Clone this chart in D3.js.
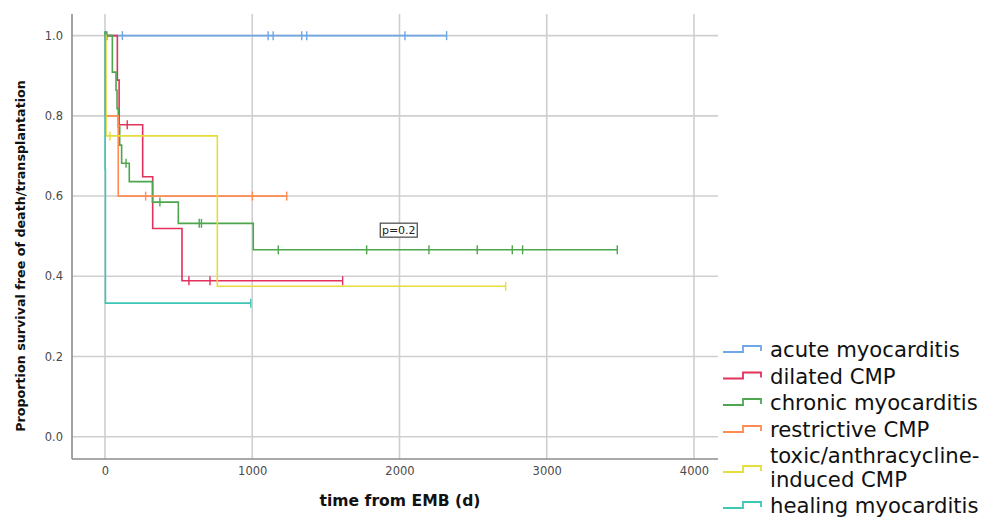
<!DOCTYPE html>
<html>
<head>
<meta charset="utf-8">
<script src="https://cdn.jsdelivr.net/npm/d3@7"></script>
<style>
  body { margin: 0; background: #fff; }
  svg { display: block; font-family: "DejaVu Sans", sans-serif; }
</style>
</head>
<body>
<script>
// survival steps: [time (d), proportion]
var acuteSteps = [[0, 1]];
var acuteCensor = [0, 5, 14, 118, 1108, 1142, 1336, 1370, 2037, 2320];

var dilatedSteps = [[0, 1], [84, 0.889], [96, 0.778], [256, 0.648], [324, 0.519], [523, 0.389]];
var dilatedCensor = [151, 570, 713, 1614];

var chronicSteps = [[0, 1], [50, 0.909], [75, 0.864], [82, 0.818], [90, 0.773], [100, 0.727],
    [113, 0.682], [165, 0.636], [322, 0.585], [498, 0.532], [1007, 0.466]];
var chronicCensor = [0, 8, 143, 373, 640, 655, 1177, 1777, 2200, 2528, 2766, 2836, 3479];

var restrictiveSteps = [[0, 1], [1, 0.8], [90, 0.6]];
var restrictiveCensor = [276, 1001, 1234];

var toxicSteps = [[0, 1], [7, 0.75], [763, 0.375]];
var toxicCensor = [34, 2721];

var healingSteps = [[0, 1], [1, 0.667], [3, 0.333]];
var healingCensor = [990];

var groupNames = ['acute myocarditis', 'dilated CMP', 'chronic myocarditis', 'restrictive CMP',
    ['toxic/anthracycline-', 'induced CMP'], 'healing myocarditis'];
var groupColors = ['#6ea6e6', '#e3305c', '#4da64d', '#ff8a52', '#e6dc3a', '#3ec6b6'];

var xTicks = [0, 1000, 2000, 3000, 4000];
var yTicks = [0, 0.2, 0.4, 0.6, 0.8, 1.0];
var pLabel = 'p=0.2';

(function() {
    var groups = [
        {steps: acuteSteps, censor: acuteCensor},
        {steps: dilatedSteps, censor: dilatedCensor},
        {steps: chronicSteps, censor: chronicCensor},
        {steps: restrictiveSteps, censor: restrictiveCensor},
        {steps: toxicSteps, censor: toxicCensor},
        {steps: healingSteps, censor: healingCensor}
    ].map(function(g, i) {
        g.name = groupNames[i];
        g.color = groupColors[i];
        return g;
    });

    var width = 995, height = 518;
    var pLeft = 72, pRight = 718, pTop = 14, pBottom = 459;

    var x = d3.scaleLinear().domain([-224, 4163]).range([pLeft, pRight]);
    var y = d3.scaleLinear().domain([-0.0556, 1.054]).range([pBottom, pTop]);

    var svg = d3.select('body').append('svg')
        .attr('width', width)
        .attr('height', height);

    // grid
    svg.append('g').selectAll('line')
        .data(xTicks)
        .enter().append('line')
        .attr('x1', function(d) { return x(d); })
        .attr('x2', function(d) { return x(d); })
        .attr('y1', pTop)
        .attr('y2', pBottom)
        .attr('stroke', '#cfcfcf')
        .attr('stroke-width', 1.6);

    svg.append('g').selectAll('line')
        .data(yTicks)
        .enter().append('line')
        .attr('x1', pLeft)
        .attr('x2', pRight)
        .attr('y1', function(d) { return y(d); })
        .attr('y2', function(d) { return y(d); })
        .attr('stroke', '#cfcfcf')
        .attr('stroke-width', 1.6);

    // axes
    var xAxis = svg.append('g')
        .attr('transform', 'translate(0,' + pBottom + ')')
        .call(d3.axisBottom(x).tickValues(xTicks).tickSize(0).tickPadding(8).tickFormat(d3.format('d')));
    var yAxis = svg.append('g')
        .attr('transform', 'translate(' + pLeft + ',0)')
        .call(d3.axisLeft(y).tickValues(yTicks).tickSize(0).tickPadding(9).tickFormat(d3.format('.1f')));

    [xAxis, yAxis].forEach(function(ax) {
        ax.select('.domain').attr('stroke', '#8c8c8c').attr('stroke-width', 1.6);
        ax.selectAll('text')
            .attr('fill', '#4a4a4a')
            .style('font-size', '11.5px')
            .style('font-family', '"DejaVu Sans", sans-serif');
    });
    xAxis.select('.domain').attr('d', 'M' + pLeft + ',0H' + pRight);
    yAxis.select('.domain').attr('d', 'M0,' + pTop + 'V' + pBottom);

    // curves
    var line = d3.line()
        .x(function(d) { return x(d[0]); })
        .y(function(d) { return y(d[1]); })
        .curve(d3.curveStepAfter);

    function valueAt(steps, t) {
        var v = steps[0][1];
        steps.forEach(function(s) { if (s[0] <= t) v = s[1]; });
        return v;
    }

    groups.forEach(function(g) {
        var end = d3.max(g.censor.concat(g.steps.map(function(s) { return s[0]; })));
        var pts = g.steps.concat([[end, valueAt(g.steps, end)]]);
        var gg = svg.append('g');
        gg.append('path')
            .attr('d', line(pts))
            .attr('fill', 'none')
            .attr('stroke', g.color)
            .attr('stroke-width', 1.6);
        gg.selectAll('line.censor')
            .data(g.censor)
            .enter().append('line')
            .attr('class', 'censor')
            .attr('x1', function(d) { return x(d); })
            .attr('x2', function(d) { return x(d); })
            .attr('y1', function(d) { return y(valueAt(g.steps, d)) - 4.5; })
            .attr('y2', function(d) { return y(valueAt(g.steps, d)) + 4.5; })
            .attr('stroke', g.color)
            .attr('stroke-width', 1.4);
    });

    // p-value box
    var pg = svg.append('g').attr('transform', 'translate(' + x(1995) + ',' + y(0.515) + ')');
    pg.append('rect')
        .attr('x', -18.5).attr('y', -7)
        .attr('width', 37).attr('height', 14)
        .attr('fill', '#fff')
        .attr('stroke', '#444')
        .attr('stroke-width', 1.2);
    pg.append('text')
        .attr('text-anchor', 'middle')
        .attr('dy', '0.35em')
        .style('font-size', '11px')
        .attr('fill', '#222')
        .text(pLabel);

    // axis titles
    function fitText(sel, target) {
        var w = sel.node().getComputedTextLength();
        var fs = parseFloat(sel.style('font-size'));
        sel.style('font-size', (fs * target / w) + 'px');
        return fs * target / w;
    }

    var xt = svg.append('text')
        .attr('x', 400).attr('y', 506)
        .attr('text-anchor', 'middle')
        .style('font-weight', 'bold')
        .style('font-size', '15px')
        .attr('fill', '#111')
        .text('time from EMB (d)');
    fitText(xt, 161);

    var yt = svg.append('text')
        .attr('transform', 'translate(25,256) rotate(-90)')
        .attr('text-anchor', 'middle')
        .style('font-weight', 'bold')
        .style('font-size', '14px')
        .attr('fill', '#111')
        .text('Proportion survival free of death/transplantation');
    fitText(yt, 352);

    // legend
    var legend = svg.append('g').attr('transform', 'translate(723,0)');
    var probe = legend.append('text').style('font-size', '19px').text(groupNames[0]);
    var legendSize = fitText(probe, 190);
    probe.remove();

    var rowY = [357, 383.5, 410, 437, 463, 513];
    groups.forEach(function(g, i) {
        var by = rowY[i];
        var lines = Array.isArray(g.name) ? g.name : [g.name];
        var iy = lines.length > 1 ? by + 9 : by - 5;
        legend.append('path')
            .attr('d', 'M0,' + iy + 'H20V' + (iy - 6) + 'H38V' + (iy - 1))
            .attr('fill', 'none')
            .attr('stroke', g.color)
            .attr('stroke-width', 1.8);
        lines.forEach(function(t, j) {
            legend.append('text')
                .attr('x', 47)
                .attr('y', by + j * 24)
                .style('font-size', legendSize + 'px')
                .attr('fill', '#111')
                .text(t);
        });
    });
}());
</script>
</body>
</html>
